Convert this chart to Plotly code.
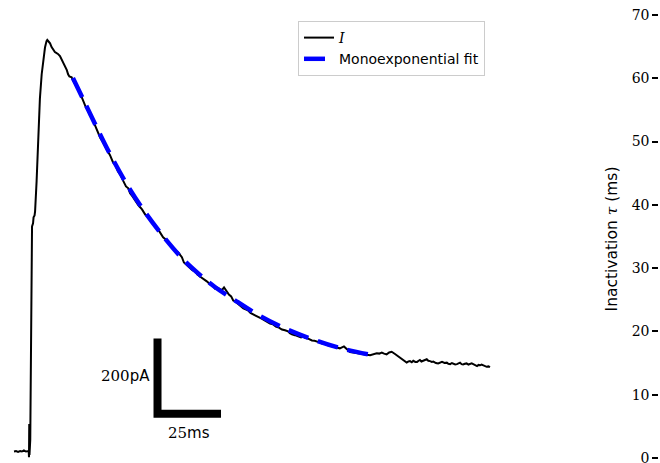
import plotly.graph_objects as go

# ---- data ----
trace_time_ms = [0.0, 0.8, 1.6, 2.4, 3.1, 3.9, 4.7, 5.5, 5.8, 5.9, 6.0, 6.1, 6.4, 6.7, 7.1, 7.5, 7.7, 8.1, 8.3, 8.9,
                 9.6, 9.8, 10.2, 10.9, 11.5, 12.2, 12.8, 13.1, 13.6, 14.2, 14.8, 15.5, 16.1, 16.8, 17.3, 18.1, 18.7,
                 19.4, 20.1, 20.8, 21.3, 21.8, 22.7, 23.2, 24.4, 25.0, 25.6, 26.3, 27.1, 27.6, 28.3, 29.1, 29.9, 30.8,
                 31.9, 32.5, 33.1, 33.9, 34.8, 35.8, 36.8, 37.8, 39.0, 40.0, 40.9, 42.0, 42.9, 44.1, 45.0, 45.7, 46.6,
                 47.6, 49.0, 50.4, 51.6, 52.5, 53.5, 54.6, 55.9, 57.3, 58.7, 59.6, 60.6, 61.6, 62.6, 63.6, 64.6,
                 65.4, 66.1, 66.9, 67.7, 68.5, 69.3, 70.3, 71.3, 72.2, 73.2, 74.5, 75.9, 77.2, 78.1, 79.1, 80.1,
                 81.1, 81.9, 82.7, 83.5, 84.6, 85.5, 86.3, 87.2, 88.2, 89.3, 90.3, 91.2, 92.1, 93.1, 94.1, 95.2,
                 96.2, 97.1, 98.0, 99.4, 100.8, 101.9, 103.1, 104.3, 105.5, 106.7, 107.9, 108.6, 109.4, 110.6,
                 111.4, 112.2, 113.0, 113.8, 114.6, 115.4, 116.3, 117.3, 118.3, 119.3, 120.3, 121.3, 122.4, 123.6,
                 124.8, 126.0, 127.2, 128.3, 129.9, 131.1, 132.3, 133.6, 134.9, 136.1, 137.4, 138.8, 140.2, 141.5,
                 142.8, 143.8, 144.8, 145.7, 146.7, 147.7, 148.7, 150.0, 151.3, 152.8, 154.6, 155.3, 155.9, 156.6,
                 157.2, 158.0, 158.7, 159.3, 159.8, 160.4, 161.0, 161.8, 162.5, 163.1, 163.8, 164.5, 165.1, 166.1,
                 167.0, 167.8, 168.5, 169.5, 170.4, 171.0, 171.7, 172.4, 173.0, 173.7, 174.4, 175.0, 175.6, 176.2,
                 176.8, 177.5, 178.2, 178.9, 179.5, 180.2, 180.8, 181.6, 182.3, 182.9, 183.5, 184.1, 184.6, 185.4,
                 186.1, 186.8, 187.4]
trace_current_pA = [0, 1, -1, 1, 0, 3, 0, 1, 1, -15, 73, -9, 31, 323, 598, 606, 622, 627, 638, 718,
                    829, 869, 938, 1002, 1044, 1073, 1090, 1093, 1089, 1084, 1074, 1066, 1061, 1058, 1056, 1050, 1042,
                    1035, 1024, 1013, 1002, 996, 994, 986, 972, 966, 957, 947, 933, 927, 914, 906, 893, 884,
                    866, 859, 845, 834, 824, 811, 801, 787, 768, 760, 744, 734, 720, 704, 699, 686, 678,
                    667, 654, 643, 630, 624, 614, 606, 595, 584, 569, 564, 555, 547, 542, 534, 529,
                    520, 516, 502, 497, 494, 489, 481, 479, 470, 465, 459, 452, 444, 441, 433, 435,
                    431, 429, 436, 428, 417, 412, 401, 398, 391, 386, 380, 377, 375, 368, 364, 361,
                    356, 354, 351, 345, 340, 338, 332, 329, 324, 322, 319, 314, 311, 309,
                    307, 306, 303, 306, 302, 301, 298, 295, 294, 293, 290, 287, 286, 282,
                    280, 277, 276, 274, 279, 271, 264, 263, 261, 260, 259, 257, 256, 258,
                    261, 260, 263, 260, 258, 263, 265, 259, 252, 246, 236, 239, 240, 237,
                    241, 238, 238, 241, 243, 239, 240, 243, 245, 241, 240, 238, 239, 235,
                    234, 237, 238, 235, 236, 233, 232, 235, 234, 231, 232, 235, 236, 232,
                    231, 233, 234, 231, 232, 234, 232, 229, 227, 230, 229, 231, 230, 227,
                    225, 226, 224]

fit_time_ms = [23.2, 27.2, 31.9, 37.8, 43.7, 50.4, 58.7, 66.5, 73.2, 79.1, 86.2, 96.1, 107.9, 119.3, 129.9, 140.9]
fit_current_pA = [992, 936, 870, 790, 718, 647, 572, 511, 469, 437, 405, 363, 323, 294, 272, 256]

scalebar_origin_ms = 56.5
scalebar_origin_pA = 100
scalebar_len_ms = 25
scalebar_len_pA = 200

tau_ticks = [0, 10, 20, 30, 40, 50, 60, 70]

SERIF = "DejaVu Serif"
SANS = "DejaVu Sans"

fig = go.Figure()
fig.add_trace(go.Scatter(
    x=trace_time_ms, y=trace_current_pA, mode="lines",
    line=dict(color="black", width=2),
    name='<span style="font-family:DejaVu Serif"><i>I</i></span>'))
fig.add_trace(go.Scatter(
    x=fit_time_ms, y=fit_current_pA, mode="lines",
    line=dict(color="#0000ff", width=4.5, dash="21px,10px", shape="spline"),
    name="Monoexponential fit"))
# scale bar
fig.add_trace(go.Scatter(
    x=[scalebar_origin_ms, scalebar_origin_ms, scalebar_origin_ms + scalebar_len_ms],
    y=[scalebar_origin_pA + scalebar_len_pA, scalebar_origin_pA, scalebar_origin_pA],
    mode="lines", line=dict(color="black", width=8), showlegend=False, hoverinfo="skip"))
# right panel (only its axis is visible)
fig.add_trace(go.Scatter(x=[None], y=[None], xaxis="x2", yaxis="y2", showlegend=False))

fig.add_annotation(
    x=scalebar_origin_ms, y=scalebar_origin_pA + scalebar_len_pA / 2, xref="x", yref="y",
    text=f'<span style="font-family:DejaVu Serif">{scalebar_len_pA}</span>pA',
    showarrow=False, xanchor="right", yanchor="middle", xshift=-6,
    font=dict(family=SANS, size=15, color="black"))
fig.add_annotation(
    x=scalebar_origin_ms + scalebar_len_ms / 2, y=scalebar_origin_pA, xref="x", yref="y",
    text=f'<span style="font-family:DejaVu Serif">{scalebar_len_ms}</span>ms',
    showarrow=False, xanchor="center", yanchor="top", yshift=-8,
    font=dict(family=SANS, size=15, color="black"))

fig.update_layout(
    width=660, height=463,
    margin=dict(l=0, r=0, t=0, b=0),
    paper_bgcolor="white", plot_bgcolor="white",
    showlegend=True,
    legend=dict(x=485 / 660, xanchor="right", y=1 - 21 / 463, yanchor="top",
                bordercolor="#cccccc", borderwidth=1, bgcolor="rgba(255,255,255,0.8)",
                font=dict(family=SANS, size=14, color="black")),
    xaxis=dict(domain=[0, 1], range=[-5.512, 254.33], visible=False),
    yaxis=dict(domain=[0, 1], range=[-30.54, 1199.2], visible=False),
    xaxis2=dict(domain=[0.999, 1], anchor="y2", range=[0, 1], visible=False),
    yaxis2=dict(domain=[0, 0.9676], anchor="x2", range=[-0.79, 70],
                tickmode="array", tickvals=tau_ticks, ticktext=[str(v) for v in tau_ticks],
                ticks="outside", ticklen=6, tickwidth=2, tickcolor="black",
                ticklabeloverflow="allow",
                showline=False, showgrid=False, zeroline=False, automargin=False,
                tickfont=dict(family=SERIF, size=14, color="black"),
                title=dict(text='Inactivation <span style="font-family:DejaVu Serif"><i>τ</i></span> (ms)',
                           font=dict(family=SANS, size=15.5, color="black"), standoff=10)),
)

fig.write_html("out.html")
